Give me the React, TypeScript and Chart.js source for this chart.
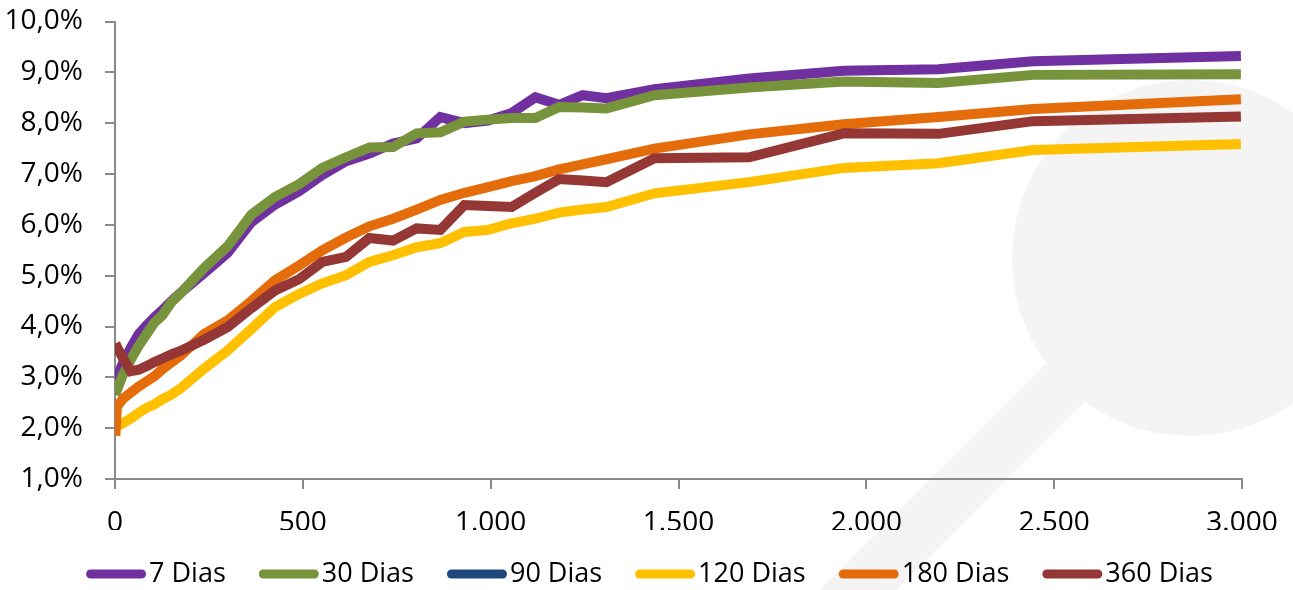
import React, { useEffect, useRef } from 'react';
import { Chart, registerables } from 'chart.js';

Chart.register(...registerables);

// Prazo (dias) — x axis positions of the curve vertices
const DAYS = [1, 5, 21, 42, 63, 84, 105, 126, 150, 174, 237, 300, 363, 426, 490, 552, 615, 677, 740, 803, 866, 930, 993, 1056, 1119, 1182, 1245, 1308, 1436, 1688, 1940, 2192, 2444, 2997];

const SERIES_LABELS = ['7 Dias', '30 Dias', '90 Dias', '120 Dias', '180 Dias', '360 Dias'];
const SERIES_COLORS = ['#7030a0', '#77933c', '#1f497d', '#ffc000', '#e46c0a', '#953735'];

const D7 = [2.85, 3.0, 3.28, 3.58, 3.85, 4.02, 4.18, 4.32, 4.5, 4.66, 5.05, 5.45, 6.05, 6.4, 6.66, 6.98, 7.25, 7.4, 7.6, 7.7, 8.12, 8.0, 8.05, 8.2, 8.51, 8.36, 8.55, 8.49, 8.67, 8.88, 9.03, 9.06, 9.22, 9.32];
const D30 = [2.65, 2.75, 3.05, 3.35, 3.62, 3.85, 4.08, 4.22, 4.48, 4.65, 5.15, 5.58, 6.2, 6.55, 6.8, 7.12, 7.33, 7.52, 7.53, 7.8, 7.82, 8.03, 8.07, 8.1, 8.1, 8.32, 8.31, 8.29, 8.55, 8.7, 8.82, 8.79, 8.95, 8.96];
const D90: number[] = [];
const D120 = [2.0, 2.03, 2.1, 2.19, 2.3, 2.4, 2.47, 2.57, 2.66, 2.78, 3.17, 3.53, 3.95, 4.38, 4.64, 4.85, 5.01, 5.27, 5.4, 5.56, 5.64, 5.86, 5.9, 6.03, 6.12, 6.24, 6.3, 6.35, 6.62, 6.84, 7.12, 7.21, 7.47, 7.59];
const D180 = [1.85, 2.42, 2.58, 2.7, 2.82, 2.92, 3.02, 3.16, 3.29, 3.42, 3.85, 4.12, 4.5, 4.91, 5.2, 5.5, 5.75, 5.97, 6.12, 6.3, 6.49, 6.63, 6.74, 6.86, 6.96, 7.09, 7.19, 7.29, 7.5, 7.78, 7.98, 8.12, 8.28, 8.47];
const D360 = [3.67, 3.6, 3.38, 3.12, 3.15, 3.22, 3.3, 3.37, 3.45, 3.52, 3.74, 3.99, 4.36, 4.71, 4.93, 5.27, 5.37, 5.74, 5.69, 5.93, 5.9, 6.39, 6.37, 6.35, 6.63, 6.9, 6.87, 6.84, 7.31, 7.33, 7.8, 7.79, 8.04, 8.13];

const SERIES_VALUES = [D7, D30, D90, D120, D180, D360];

const X_MIN = 0;
const X_MAX = 3000;
const X_STEP = 500;
const Y_MIN = 1;
const Y_MAX = 10;
const Y_STEP = 1;

const FONT = '"Open Sans", "Noto Sans", sans-serif';
const AXIS_COLOR = '#898989';

const fmtThousands = (v: number) => String(Math.round(v)).replace(/\B(?=(\d{3})+(?!\d))/g, '.');
const fmtPct = (v: number) => v.toFixed(1).replace('.', ',') + '%';

const watermarkPlugin = {
  id: 'watermark',
  beforeDraw(chart: any) {
    const ctx = chart.ctx;
    ctx.save();
    ctx.fillStyle = '#f4f4f4';
    ctx.beginPath();
    ctx.arc(1190, 258, 178, 0, Math.PI * 2);
    ctx.fill();
    ctx.translate(1190, 258);
    ctx.rotate((3 * Math.PI) / 4);
    ctx.fillRect(0, -27, 700, 54);
    ctx.restore();
  },
};

const legendPlugin = {
  id: 'bottomLegend',
  afterDraw(chart: any) {
    const ctx = chart.ctx;
    ctx.save();
    ctx.font = `27px ${FONT}`;
    const items = chart.data.datasets.map((ds: any) => ({
      label: ds.label as string,
      color: ds.borderColor as string,
      w: ctx.measureText(ds.label).width,
    }));
    const box = 60;
    const gap = 3;
    const sep = 33;
    const total = items.reduce((s: number, it: any) => s + box + gap + it.w, 0) + sep * (items.length - 1);
    let x = (chart.width - total) / 2 + 3;
    const y = 574;
    for (const it of items) {
      ctx.strokeStyle = it.color;
      ctx.lineWidth = 9;
      ctx.lineCap = 'round';
      ctx.beginPath();
      ctx.moveTo(x + 4.5, y);
      ctx.lineTo(x + box - 4.5, y);
      ctx.stroke();
      ctx.fillStyle = '#000';
      ctx.textBaseline = 'middle';
      ctx.textAlign = 'left';
      ctx.fillText(it.label, x + box + gap, y);
      x += box + gap + it.w + sep;
    }
    ctx.restore();
  },
};

export default function App() {
  const ref = useRef<HTMLCanvasElement>(null);

  useEffect(() => {
    document.body.style.margin = '0';
    if (!ref.current) return;
    Chart.defaults.font.family = FONT;
    const datasets = SERIES_LABELS.map((label, i) => ({
      label,
      data: SERIES_VALUES[i].map((v, j) => ({ x: DAYS[j], y: v })),
      borderColor: SERIES_COLORS[i],
      backgroundColor: SERIES_COLORS[i],
      borderWidth: 10,
      pointRadius: 0,
      pointHoverRadius: 0,
      tension: 0,
      fill: false,
      order: SERIES_LABELS.length - i,
    }));
    const chart = new Chart(ref.current, {
      type: 'line',
      data: { datasets },
      options: {
        animation: false,
        responsive: false,
        maintainAspectRatio: false,
        layout: { autoPadding: false, padding: { top: 21.5, right: 51, bottom: 60, left: 0 } },
        plugins: {
          legend: { display: false },
          tooltip: { enabled: false },
        },
        scales: {
          x: {
            type: 'linear',
            min: X_MIN,
            max: X_MAX,
            ticks: {
              stepSize: X_STEP,
              color: '#000',
              font: { size: 28, family: FONT },
              padding: 17,
              maxRotation: 0,
              callback: (v: any) => fmtThousands(Number(v)),
            },
            grid: {
              display: true,
              drawOnChartArea: false,
              drawTicks: true,
              tickLength: 10,
              color: AXIS_COLOR,
              lineWidth: 2,
            },
            border: { display: true, color: AXIS_COLOR, width: 2 },
            afterFit: (s: any) => {
              s.height = 51;
              s.paddingLeft = 0;
              s.paddingRight = 0;
            },
          },
          y: {
            type: 'linear',
            min: Y_MIN,
            max: Y_MAX,
            ticks: {
              stepSize: Y_STEP,
              color: '#000',
              font: { size: 28, family: FONT },
              padding: 22,
              callback: (v: any) => fmtPct(Number(v)),
            },
            grid: {
              display: true,
              drawOnChartArea: false,
              drawTicks: true,
              tickLength: 10,
              color: AXIS_COLOR,
              lineWidth: 2,
            },
            border: { display: true, color: AXIS_COLOR, width: 2 },
            afterFit: (s: any) => {
              s.width = 115;
              s.paddingTop = 0;
              s.paddingBottom = 0;
            },
          },
        },
      },
      plugins: [watermarkPlugin, legendPlugin],
    });
    return () => chart.destroy();
  }, []);

  return (
    <div style={{ position: 'fixed', left: 0, top: 0, width: 1293, height: 590, background: '#fff' }}>
      <canvas ref={ref} width={1293} height={590} style={{ width: 1293, height: 590, display: 'block' }} />
    </div>
  );
}
